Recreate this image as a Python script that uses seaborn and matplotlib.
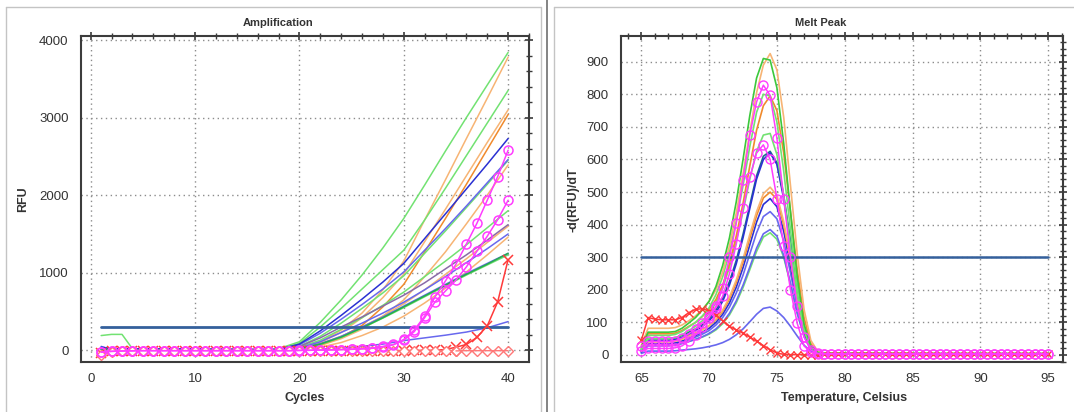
import numpy as np
import pandas as pd
import matplotlib
matplotlib.use('Agg')
import matplotlib.pyplot as plt
from matplotlib.lines import Line2D
from matplotlib.ticker import MultipleLocator
import seaborn as sns

# ---------------- Amplification data (RFU per cycle) ----------------
cycles = list(range(1, 41))
line_cycles = [1, 2, 3, 4, 16, 18, 20, 22, 24, 26, 28, 30, 32, 34, 36, 38, 40]

amp_green_1 = [10, 5, 5, 5, 5, 20, 110, 360, 650, 970, 1320, 1700, 2130, 2570, 3000, 3420, 3840]
amp_green_2 = [10, 5, 5, 5, 5, 15, 90, 300, 540, 790, 1040, 1290, 1680, 2090, 2510, 2930, 3350]
amp_green_3 = [15, 10, 10, 10, 5, 10, 50, 180, 350, 540, 740, 960, 1250, 1540, 1840, 2140, 2450]
amp_green_4 = [10, 5, 5, 5, 5, 5, 40, 130, 270, 420, 580, 750, 950, 1150, 1360, 1580, 1800]
amp_green_5 = [20, 10, 10, 10, 5, 0, 20, 80, 170, 290, 420, 560, 700, 840, 980, 1110, 1250]
amp_green_6 = [190, 205, 205, 20, 5, 0, 15, 75, 165, 285, 415, 550, 690, 830, 970, 1100, 1230]
amp_orange_1 = [30, 20, 20, 20, 10, 0, 20, 110, 260, 480, 780, 1150, 1680, 2200, 2730, 3250, 3780]
amp_orange_2 = [30, 20, 20, 20, 10, 0, 20, 100, 230, 420, 680, 980, 1400, 1820, 2250, 2680, 3100]
amp_orange_3 = [25, 15, 15, 15, 5, -10, 10, 70, 170, 320, 560, 850, 1270, 1700, 2140, 2590, 3040]
amp_orange_4 = [25, 15, 15, 15, 5, -20, 0, 60, 150, 270, 440, 650, 950, 1270, 1630, 2000, 2390]
amp_orange_5 = [20, 15, 15, 15, 5, -10, 15, 80, 180, 300, 440, 600, 780, 980, 1180, 1390, 1600]
amp_orange_6 = [20, 10, 10, 10, 0, -30, -20, 40, 100, 190, 300, 440, 610, 800, 1010, 1230, 1460]
amp_blue_1 = [40, 20, 20, 20, 10, 10, 80, 250, 450, 660, 880, 1120, 1440, 1760, 2080, 2400, 2730]
amp_blue_2 = [30, 15, 15, 15, 10, 10, 70, 220, 400, 590, 790, 1010, 1290, 1570, 1860, 2160, 2460]
amp_blue_3 = [20, 10, 10, 10, 5, 5, 50, 160, 300, 430, 570, 710, 870, 1050, 1230, 1420, 1620]
amp_blue_4 = [20, 10, 10, 10, 5, 5, 30, 110, 230, 350, 480, 620, 780, 950, 1130, 1310, 1500]
amp_blue_5 = [15, 5, 5, 5, 0, 0, 25, 85, 180, 300, 430, 570, 710, 850, 990, 1120, 1250]
amp_blue_6 = [50, 10, 5, 5, 0, 0, 5, 15, 30, 50, 80, 125, 160, 195, 235, 290, 370]

amp_magenta_1 = [-25, -15, -10, -8, -5, -5, -5, -5, -5, -5, -5, -5, -5, -5, -5, -5, -5, -5, -5, 0,
                 0, 5, 5, 10, 15, 20, 30, 50, 75, 140, 260, 440, 690, 895, 1110, 1370, 1635, 1935, 2240, 2580]
amp_magenta_2 = [-20, -12, -8, -6, -5, -5, -5, -5, -5, -5, -5, -5, -5, -5, -5, -5, -5, -5, -5, -3,
                 0, 2, 5, 8, 12, 18, 25, 45, 70, 130, 240, 420, 625, 765, 905, 1075, 1275, 1470, 1685, 1935]
amp_red_x = [-30, -10, -8, -6, -5, -5, -5, -5, -5, -5, -5, -5, -5, -5, -5, -5, -5, -5, -5, -5,
             -5, -5, -5, -5, -5, -5, -5, -5, -5, -3, -2, 0, 0, 10, 40, 75, 165, 315, 625, 1170]
amp_red_diamond = [-55, -25, -15, -10, -10, -8, -8, -8, -8, -8, -8, -8, -8, -8, -8, -8, -8, -8, -8, -8,
                   -8, -8, -8, -8, -8, -8, -8, -8, -8, -8, -8, -8, -8, -8, -8, -5, -5, -5, -5, -5]
amp_threshold = 300

# ---------------- Melt peak data (-d(RFU)/dT) ----------------
melt_temp = [65, 65.5, 66, 67, 67.5, 68, 68.5, 69, 69.5, 70, 70.5, 71, 71.5, 72, 72.5, 73,
             73.5, 74, 74.5, 75, 75.5, 76, 76.5, 77, 77.5, 78, 78.5, 80, 85, 90, 95]
melt_orange_1 = [30, 82, 82, 82, 84, 92, 105, 120, 140, 165, 200, 255, 335, 435, 555, 685,
                 805, 890, 925, 875, 730, 520, 310, 140, 45, 12, 6, 5, 4, 4, 3]
melt_green_1 = [25, 70, 70, 70, 72, 82, 98, 115, 138, 165, 210, 275, 360, 470, 600, 735,
                850, 910, 905, 820, 650, 440, 240, 95, 28, 8, 5, 5, 4, 4, 4]
melt_green_2 = [20, 60, 60, 60, 63, 72, 86, 100, 120, 145, 185, 240, 315, 410, 520, 640,
                745, 800, 795, 715, 565, 385, 210, 85, 25, 8, 5, 4, 4, 4, 4]
melt_orange_2 = [22, 65, 65, 65, 67, 75, 88, 100, 118, 140, 170, 215, 280, 365, 465, 580,
                 690, 765, 795, 750, 620, 440, 260, 115, 35, 10, 5, 4, 4, 3, 3]
melt_green_3 = [15, 50, 50, 50, 53, 62, 75, 88, 105, 128, 160, 205, 270, 350, 440, 540,
                625, 675, 680, 615, 490, 335, 185, 75, 22, 7, 5, 4, 4, 4, 4]
melt_blue_1 = [15, 45, 45, 45, 47, 54, 64, 75, 88, 105, 130, 165, 215, 280, 360, 450,
               540, 600, 620, 585, 480, 340, 195, 85, 25, 8, 5, 4, 4, 3, 3]
melt_teal_1 = [18, 50, 50, 50, 52, 60, 70, 80, 94, 112, 138, 175, 225, 290, 370, 460,
               550, 610, 625, 590, 490, 350, 200, 88, 26, 8, 5, 4, 4, 4, 4]
melt_orange_3 = [12, 40, 40, 40, 42, 48, 57, 66, 77, 90, 110, 138, 178, 230, 295, 370,
                 440, 495, 515, 490, 410, 295, 175, 78, 25, 8, 5, 4, 4, 3, 3]
melt_orange_4 = [14, 42, 42, 42, 44, 50, 58, 67, 78, 90, 108, 134, 172, 222, 285, 358,
                 428, 482, 500, 478, 400, 290, 172, 76, 24, 8, 5, 4, 4, 3, 3]
melt_blue_2 = [10, 35, 35, 35, 37, 43, 51, 60, 70, 82, 100, 125, 160, 208, 268, 338,
               408, 462, 480, 455, 380, 275, 160, 70, 22, 7, 5, 4, 3, 3, 3]
melt_blue_3 = [10, 32, 32, 32, 34, 40, 47, 55, 64, 75, 92, 115, 147, 190, 245, 310,
               375, 425, 440, 418, 350, 252, 147, 65, 20, 7, 5, 4, 3, 3, 3]
melt_blue_4 = [8, 28, 28, 28, 30, 35, 41, 48, 56, 66, 80, 100, 128, 166, 214, 270,
               328, 372, 385, 365, 305, 220, 128, 57, 18, 6, 4, 4, 3, 3, 3]
melt_green_4 = [10, 30, 30, 30, 32, 36, 42, 48, 55, 64, 77, 96, 123, 160, 207, 262,
                318, 362, 375, 355, 300, 218, 128, 58, 18, 6, 5, 4, 4, 4, 4]
melt_blue_low = [5, 12, 12, 12, 13, 15, 17, 19, 22, 26, 31, 38, 48, 62, 80, 102,
                 125, 143, 147, 135, 115, 88, 58, 30, 12, 5, 3, 3, 3, 3, 3]

melt_temp_full = np.arange(65.0, 95.5, 0.5)
melt_magenta_1 = [12, 20, 20, 20, 20, 22, 28, 42, 62, 85, 115, 150, 205, 300, 404, 537, 675, 777, 828, 797,
                  665, 480, 300, 150, 55, 15, 5, 4, 4, 4, 3, 3, 3, 3, 3, 3, 3, 3, 3, 3,
                  3, 3, 3, 3, 3, 3, 3, 3, 3, 3, 3, 3, 3, 3, 3, 3, 3, 3, 3, 3, 3]
melt_magenta_2 = [28, 42, 42, 42, 42, 44, 52, 65, 80, 98, 120, 145, 180, 250, 340, 450, 545, 620, 645, 600,
                  480, 335, 200, 97, 28, 8, 4, 3, 3, 3, 3, 3, 3, 3, 3, 3, 3, 3, 3, 3,
                  3, 3, 3, 3, 3, 3, 3, 3, 3, 3, 3, 3, 3, 3, 3, 3, 3, 3, 3, 3, 3]
melt_red_x = [45, 115, 110, 108, 108, 108, 115, 130, 140, 142, 135, 122, 105, 88, 77, 67, 55, 42, 29, 16,
              6, 2, 1, 1, 1, 1, 1, 2, 2, 2, 2, 2, 2, 2, 2, 2, 2, 2, 2, 2,
              2, 2, 2, 2, 2, 2, 2, 2, 2, 2, 2, 2, 2, 2, 2, 2, 2, 2, 2, 2, 2]
melt_threshold = 300

# ---------------- styles ----------------
GREEN = '#72e272'
GREEN_D = '#27b04a'
ORANGE = '#f7b474'
ORANGE_D = '#f08a2c'
BLUE = '#6868ee'
BLUE_D = '#2a30d2'
TEAL = '#1f6a8c'
MAGENTA = '#ff3cff'
RED = '#ff3a3a'
PINK_RED = '#ff7878'
THRESH = '#34609c'
TEXT = '#333333'

sns.set_style('white')
plt.rcParams['font.family'] = ['Liberation Sans', 'DejaVu Sans']

W, H = 1074, 412
fig = plt.figure(figsize=(W / 100, H / 100), dpi=100)


def px_axes(l, t, r, b):
    return fig.add_axes([l / W, 1 - b / H, (r - l) / W, (b - t) / H])


def draw_lines(ax, x, curves, lw=1.0):
    rows = []
    palette = {}
    for name, vals, color in curves:
        palette[name] = color
        for xi, yi in zip(x, vals):
            rows.append({'x': xi, 'y': yi, 'well': name})
    df = pd.DataFrame(rows)
    sns.lineplot(data=df, x='x', y='y', hue='well', palette=palette,
                 estimator=None, sort=False, legend=False, linewidth=lw, ax=ax)


def style_axes(ax, xmaj, xmin, ymaj, ymin):
    ax.xaxis.set_major_locator(MultipleLocator(xmaj))
    ax.xaxis.set_minor_locator(MultipleLocator(xmin))
    ax.yaxis.set_major_locator(MultipleLocator(ymaj))
    ax.yaxis.set_minor_locator(MultipleLocator(ymin))
    ax.grid(True, which='major', linestyle=(0, (1, 2.5)), color='#8c8c8c', linewidth=1.0)
    ax.set_axisbelow(True)
    ax.tick_params(which='both', direction='inout', top=True, right=True,
                   colors='#3a3a3a', labelcolor=TEXT, labelsize=9.5)
    ax.tick_params(which='major', length=6, width=1.2, pad=5)
    ax.tick_params(which='minor', length=4, width=1.0)
    ax.tick_params(axis='y', which='major', pad=6)
    for sp in ax.spines.values():
        sp.set_color('#3c3c3c')
        sp.set_linewidth(1.5)
    ax.set_xlabel('')
    ax.set_ylabel('')


# ---------------- Amplification panel ----------------
ax1 = px_axes(81, 36, 529, 362)
amp_curves = [
    ('o6', amp_orange_6, ORANGE), ('o5', amp_orange_5, ORANGE), ('o4', amp_orange_4, ORANGE),
    ('o3', amp_orange_3, ORANGE_D), ('o2', amp_orange_2, ORANGE), ('o1', amp_orange_1, ORANGE),
    ('g4', amp_green_4, GREEN), ('g3', amp_green_3, GREEN), ('g2', amp_green_2, GREEN),
    ('g1', amp_green_1, GREEN), ('g6', amp_green_6, GREEN),
    ('b6', amp_blue_6, BLUE), ('b5', amp_blue_5, BLUE), ('b4', amp_blue_4, BLUE),
    ('b3', amp_blue_3, '#8a6aa8'), ('b2', amp_blue_2, BLUE), ('b1', amp_blue_1, BLUE_D),
    ('g5', amp_green_5, GREEN_D),
]
draw_lines(ax1, line_cycles, amp_curves, lw=1.1)
sns.lineplot(x=[cycles[0], cycles[-1]], y=[amp_threshold, amp_threshold], color=THRESH,
             linewidth=2.0, ax=ax1)
sns.lineplot(x=cycles, y=amp_red_x, color=RED, linewidth=1.1, marker='x',
             markersize=6.5, markeredgecolor=RED, markeredgewidth=1.1, ax=ax1)
sns.lineplot(x=cycles[:35], y=amp_red_diamond[:35], color=PINK_RED, linewidth=1.0, marker='D',
             markersize=5.5, markerfacecolor='white', markeredgecolor=PINK_RED,
             markeredgewidth=1.0, ax=ax1)
sns.lineplot(x=cycles[34:], y=amp_red_diamond[34:], color=PINK_RED, linewidth=1.0, marker='D',
             markersize=5.5, markerfacecolor='none', markeredgecolor=PINK_RED,
             markeredgewidth=1.0, ax=ax1)
for vals in (amp_magenta_2, amp_magenta_1):
    sns.lineplot(x=cycles, y=vals, color=MAGENTA, linewidth=1.1, marker='o',
                 markersize=6.5, markerfacecolor='none', markeredgecolor=MAGENTA,
                 markeredgewidth=1.1, ax=ax1)
ax1.set_xlim(-0.93, 42.0)
ax1.set_ylim(-151, 4052)
style_axes(ax1, 10, 2, 1000, 200)

# ---------------- Melt peak panel ----------------
ax2 = px_axes(621, 36, 1063, 362)
melt_curves = [
    ('bl', melt_blue_low, BLUE), ('g4', melt_green_4, GREEN), ('b4', melt_blue_4, BLUE),
    ('b3', melt_blue_3, BLUE), ('b2', melt_blue_2, BLUE_D), ('o4', melt_orange_4, ORANGE_D),
    ('o3', melt_orange_3, ORANGE), ('t1', melt_teal_1, TEAL), ('b1', melt_blue_1, BLUE_D),
    ('g3', melt_green_3, GREEN), ('o2', melt_orange_2, ORANGE_D), ('g2', melt_green_2, GREEN),
    ('o1', melt_orange_1, ORANGE), ('g1', melt_green_1, '#3cc83c'),
]
draw_lines(ax2, melt_temp, melt_curves, lw=1.2)
sns.lineplot(x=[melt_temp[0], melt_temp[-1]], y=[melt_threshold, melt_threshold], color=THRESH,
             linewidth=1.8, ax=ax2)
sns.lineplot(x=melt_temp_full, y=melt_red_x, color=RED, linewidth=1.1, marker='x',
             markersize=6, markeredgecolor=RED, markeredgewidth=1.0, ax=ax2)
for vals in (melt_magenta_2, melt_magenta_1):
    sns.lineplot(x=melt_temp_full, y=vals, color=MAGENTA, linewidth=1.1, marker='o',
                 markersize=6.5, markerfacecolor='none', markeredgecolor=MAGENTA,
                 markeredgewidth=1.0, ax=ax2)
ax2.set_xlim(63.5, 96.1)
ax2.set_ylim(-21.5, 979)
style_axes(ax2, 5, 1, 100, 20)

# ---------------- titles and labels ----------------
fig.text(278 / W, 1 - 23 / H, 'Amplification', ha='center', va='center',
         fontsize=8, fontweight='bold', color=TEXT)
fig.text(305 / W, 1 - 398 / H, 'Cycles', ha='center', va='center',
         fontsize=9, fontweight='bold', color=TEXT)
fig.text(23 / W, 1 - 199 / H, 'RFU', ha='center', va='center', rotation=90,
         fontsize=9, fontweight='bold', color=TEXT)
fig.text(821 / W, 1 - 23 / H, 'Melt Peak', ha='center', va='center',
         fontsize=8, fontweight='bold', color=TEXT)
fig.text(844 / W, 1 - 398 / H, 'Temperature, Celsius', ha='center', va='center',
         fontsize=9, fontweight='bold', color=TEXT)
fig.text(573 / W, 1 - 200 / H, '-d(RFU)/dT', ha='center', va='center', rotation=90,
         fontsize=9, fontweight='bold', color=TEXT)

# ---------------- panel frames ----------------
def fig_line(x0, y0, x1, y1, color, lw):
    fig.add_artist(Line2D([x0 / W, x1 / W], [1 - y0 / H, 1 - y1 / H],
                          color=color, linewidth=lw, transform=fig.transFigure))

fig_line(6, 7, 541, 7, '#c4c4c4', 1.0)
fig_line(6, 7, 6, 412, '#c4c4c4', 1.0)
fig_line(541, 7, 541, 412, '#c4c4c4', 1.0)
fig_line(547, 0, 547, 412, '#7a7a7a', 1.3)
fig_line(554, 7, 1074, 7, '#c4c4c4', 1.0)
fig_line(554, 7, 554, 412, '#c4c4c4', 1.0)

fig.savefig('out.png', dpi=100)
